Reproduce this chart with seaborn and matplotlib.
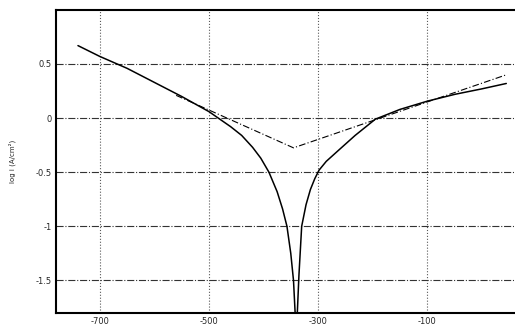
import numpy as np
import pandas as pd
import seaborn as sns
import matplotlib
matplotlib.use("Agg")
import matplotlib.pyplot as plt

# Measured polarization curve (potential in mV, log current density)
potential = [-740, -700, -650, -600, -550, -500, -480, -460, -440, -420, -405,
             -390, -375, -365, -357, -350, -345, -342, -338, -335, -330, -322,
             -314, -306, -298, -285, -263, -232, -195, -150, -100, -49, 0, 45]
log_i = [0.67, 0.57, 0.46, 0.33, 0.20, 0.06, -0.01, -0.08, -0.16, -0.27, -0.37,
         -0.50, -0.68, -0.84, -1.00, -1.25, -1.50, -1.80, -1.80, -1.45, -1.00, -0.80,
         -0.66, -0.56, -0.48, -0.40, -0.30, -0.16, -0.01, 0.08, 0.156, 0.22, 0.27, 0.32]

# Tafel extrapolation lines
tafel_x = [-560, -345, 45]
tafel_y = [0.21, -0.275, 0.40]

xticks = [-700, -500, -300, -100]
yticks = [0.5, 0, -0.5, -1, -1.5]
ytick_labels = ["0.5", "0", "-0.5", "-1", "-1.5"]

curve = pd.DataFrame({"E": potential, "logi": log_i})
tafel = pd.DataFrame({"E": tafel_x, "logi": tafel_y})

sns.set_style("white")
plt.rcParams["font.family"] = ["DejaVu Sans"]

fig = plt.figure(figsize=(5.15, 3.30), dpi=100)
ax = fig.add_axes([0.109, 0.052, 0.89, 0.918])

sns.lineplot(data=curve, x="E", y="logi", sort=False, color="black", lw=1.1, ax=ax)
sns.lineplot(data=tafel, x="E", y="logi", sort=False, color="black", lw=0.8,
             linestyle=(0, (6, 2, 1, 2)), ax=ax)

ax.set_xlim(-780, 60)
ax.set_ylim(-1.8, 1.0)
ax.set_xticks(xticks)
ax.set_xticklabels([str(t) for t in xticks], fontsize=6)
ax.set_yticks(yticks)
ax.set_yticklabels(ytick_labels, fontsize=6)
ax.tick_params(length=0, pad=3)

ax.yaxis.grid(True, ls="-.", color="0.2", lw=0.8)
ax.xaxis.grid(True, ls=":", color="0.35", lw=0.8)

ax.set_xlabel("")
ax.set_ylabel("log i (A/cm²)", fontsize=5, labelpad=14)

for side in ["left", "bottom", "top"]:
    ax.spines[side].set_color("black")
    ax.spines[side].set_linewidth(1.5)
ax.spines["right"].set_visible(False)

fig.savefig("out.png", dpi=100)
